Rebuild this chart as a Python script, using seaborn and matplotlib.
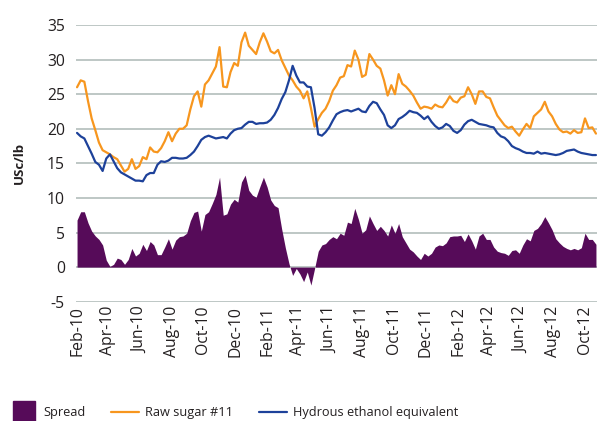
import pandas as pd
import numpy as np
import matplotlib
matplotlib.use("Agg")
import matplotlib.pyplot as plt
import matplotlib.dates as mdates
from matplotlib.lines import Line2D
import seaborn as sns

# -------------------------------
# DATA (weekly, US cents per lb)
# -------------------------------
start_date = "2010-02-01"
n_weeks = 143

raw_sugar = [
    26.0, 27.0, 26.8, 24.0, 21.5, 19.8, 18.0, 16.9, 16.6, 16.3,
    15.9, 15.6, 14.7, 13.8, 14.2, 15.6, 14.2, 14.6, 15.9, 15.6,
    17.3, 16.7, 16.6, 17.2, 18.2, 19.5, 18.2, 19.3, 20.0, 20.0,
    20.5, 22.8, 24.7, 25.4, 23.2, 26.4, 27.0, 28.0, 29.0, 31.8,
    26.1, 26.0, 28.2, 29.5, 29.1, 32.5, 33.9, 32.0, 31.4, 30.8,
    32.5, 33.8, 32.6, 31.2, 30.9, 31.4, 29.9, 28.8, 27.7, 27.0,
    26.1, 25.5, 24.4, 25.4, 23.0, 20.3, 21.4, 22.3, 22.9, 24.0,
    25.5, 26.3, 27.4, 27.6, 29.2, 29.0, 31.3, 30.0, 27.5, 27.8,
    30.8, 30.0, 29.1, 28.7, 27.0, 24.8, 26.3, 25.0, 27.9, 26.5,
    26.1, 25.5, 24.8, 23.8, 22.9, 23.2, 23.1, 22.9, 23.5, 23.2,
    23.1, 23.8, 24.7, 24.0, 23.8, 24.5, 24.7, 26.0, 25.0, 23.6,
    25.4, 25.4, 24.6, 24.4, 23.1, 21.9, 21.2, 20.5, 20.1, 20.3,
    19.6, 19.0, 19.9, 20.7, 20.1, 21.8, 22.3, 22.8, 23.9, 22.5,
    21.8, 20.7, 19.9, 19.5, 19.6, 19.3, 19.8, 19.4, 19.5, 21.5,
    20.1, 20.2, 19.3,
]

hydrous_ethanol = [
    19.4, 18.9, 18.6, 17.5, 16.4, 15.2, 14.8, 13.9, 15.7, 16.3,
    15.3, 14.3, 13.7, 13.4, 13.1, 12.8, 12.5, 12.5, 12.4, 13.3,
    13.6, 13.6, 14.8, 15.3, 15.2, 15.4, 15.8, 15.8, 15.7, 15.7,
    15.8, 16.2, 16.7, 17.5, 18.4, 18.8, 19.0, 18.8, 18.6, 18.7,
    18.8, 18.6, 19.3, 19.8, 20.0, 20.1, 20.6, 21.0, 21.0, 20.7,
    20.8, 20.8, 20.9, 21.3, 22.0, 23.0, 24.3, 25.3, 27.0, 29.1,
    27.7, 26.7, 26.7, 26.1, 26.0, 23.0, 19.2, 19.0, 19.5, 20.2,
    21.2, 22.1, 22.4, 22.6, 22.7, 22.5, 22.7, 22.9, 22.5, 22.4,
    23.3, 23.9, 23.7, 22.8, 22.0, 20.5, 20.1, 20.5, 21.4, 21.7,
    22.1, 22.6, 22.4, 22.3, 21.9, 21.4, 21.8, 21.0, 20.4, 20.0,
    20.2, 20.7, 20.4, 19.7, 19.4, 19.8, 20.6, 21.1, 21.3, 21.0,
    20.7, 20.6, 20.5, 20.3, 20.2, 19.4, 18.9, 18.7, 18.2, 17.5,
    17.2, 17.0, 16.7, 16.5, 16.5, 16.4, 16.7, 16.4, 16.5, 16.4,
    16.3, 16.2, 16.3, 16.5, 16.8, 16.9, 17.0, 16.7, 16.5, 16.4,
    16.3, 16.2, 16.2,
]

spread = [
    6.8, 8.0, 8.0, 6.4, 5.2, 4.5, 4.0, 3.2, 1.0, 0.1,
    0.4, 1.3, 1.1, 0.4, 1.1, 2.7, 1.6, 2.0, 3.3, 2.4,
    3.7, 3.2, 1.8, 1.8, 2.9, 4.1, 2.6, 3.9, 4.4, 4.5,
    4.9, 6.7, 7.9, 8.1, 5.2, 7.6, 8.0, 9.2, 10.5, 13.0,
    7.5, 7.7, 9.1, 9.8, 9.4, 12.3, 13.3, 11.1, 10.4, 10.1,
    11.6, 13.0, 11.6, 9.7, 8.9, 8.6, 5.5, 2.8, 0.5, -1.2,
    -0.2, -1.0, -2.1, -0.7, -2.6, -0.2, 2.3, 3.2, 3.4, 4.0,
    4.4, 4.1, 4.9, 4.6, 6.5, 6.3, 8.5, 6.9, 4.9, 5.4,
    7.4, 6.3, 5.3, 5.9, 5.3, 4.5, 6.1, 4.9, 6.3, 4.4,
    3.5, 2.6, 2.2, 1.6, 1.1, 2.0, 1.6, 2.0, 2.9, 3.2,
    3.1, 3.5, 4.4, 4.5, 4.5, 4.6, 3.7, 4.8, 3.8, 2.6,
    4.5, 4.9, 4.0, 4.0, 2.9, 2.3, 2.1, 2.0, 1.7, 2.4,
    2.5, 2.0, 3.2, 4.1, 3.8, 5.3, 5.6, 6.3, 7.3, 6.4,
    5.4, 4.1, 3.5, 3.0, 2.7, 2.5, 2.7, 2.5, 2.8, 4.9,
    4.0, 4.0, 3.3,
]

y_ticks = [-5, 0, 5, 10, 15, 20, 25, 30, 35]

dates = pd.date_range(start_date, periods=n_weeks, freq="7D")
df = pd.DataFrame({
    "Date": dates,
    "Raw sugar #11": raw_sugar,
    "Hydrous ethanol equivalent": hydrous_ethanol,
    "Spread": spread,
})

# -------------------------------
# STYLE
# -------------------------------
PURPLE = "#560B59"
ORANGE = "#F7961E"
BLUE = "#1D419A"
GRID = "#B9C3C0"
TEXT = "#231F20"

sns.set_style("white")
plt.rcParams["font.family"] = ["Open Sans", "DejaVu Sans"]
plt.rcParams["axes.unicode_minus"] = False

fig = plt.figure(figsize=(5.97, 4.21), dpi=100)
ax = fig.add_axes([0.1273, 0.2834, 0.8727, 0.6572])

# ---- Spread area
ax.fill_between(df["Date"], 0, df["Spread"], color=PURPLE, linewidth=0, zorder=2)

# ---- Price lines
sns.lineplot(data=df, x="Date", y="Raw sugar #11", color=ORANGE, linewidth=1.6, ax=ax, zorder=3)
sns.lineplot(data=df, x="Date", y="Hydrous ethanol equivalent", color=BLUE, linewidth=1.6, ax=ax, zorder=4)

# ---- Axes
ax.set_ylim(-5, 35)
ax.set_yticks(y_ticks)
ax.set_xlim(dates[0] - pd.Timedelta(days=2), dates[-1] + pd.Timedelta(days=2))
ax.xaxis.set_major_locator(mdates.MonthLocator(bymonth=[2, 4, 6, 8, 10, 12]))
ax.xaxis.set_major_formatter(mdates.DateFormatter("%b-%y"))
ax.tick_params(axis="x", labelrotation=90, length=0, pad=3, labelsize=11.3, colors=TEXT)
ax.tick_params(axis="y", length=0, pad=8, labelsize=11.3, colors=TEXT)
for lbl in ax.get_xticklabels():
    lbl.set_va("top")

ax.yaxis.grid(True, color=GRID, linewidth=1.3, zorder=0)
ax.set_axisbelow(True)
for s in ax.spines.values():
    s.set_visible(False)

ax.set_xlabel("")
ax.set_ylabel("USc/lb", fontsize=9.5, fontweight="bold", color=TEXT)
ax.yaxis.set_label_coords(-0.096, 0.5)

# ---- Legend
handles = [
    Line2D([], [], marker="s", linestyle="none", markersize=15.5,
           markerfacecolor=PURPLE, markeredgecolor=PURPLE),
    Line2D([], [], color=ORANGE, linewidth=1.6),
    Line2D([], [], color=BLUE, linewidth=1.6),
]
labels = ["Spread", "Raw sugar #11", "Hydrous ethanol equivalent"]
fig.legend(handles, labels, loc="center left", bbox_to_anchor=(-0.003, 0.02),
           ncol=3, frameon=False, fontsize=9.2, handlelength=2.2,
           handletextpad=0.45, columnspacing=2.0, labelcolor=TEXT)

plt.savefig("out.png", dpi=100)
